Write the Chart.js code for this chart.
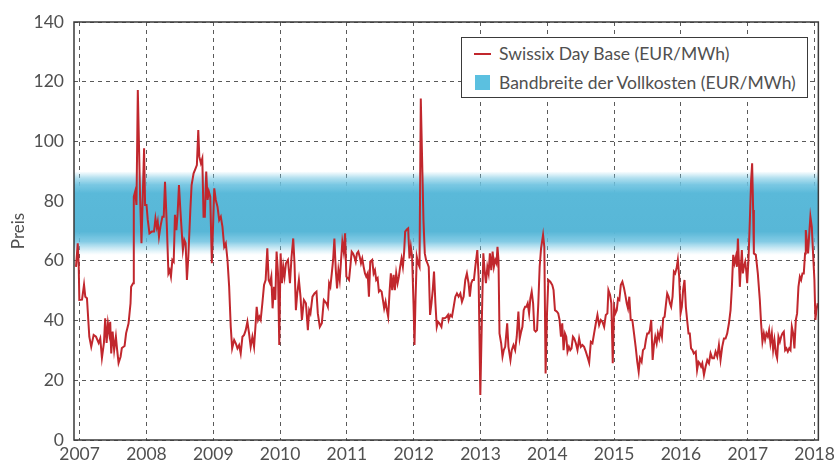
<!DOCTYPE html>
<html>
<head>
<meta charset="utf-8">
<title>Swissix Day Base</title>
<script src="https://cdn.jsdelivr.net/npm/chart.js@4/dist/chart.umd.min.js"></script>
<style>
  body { margin: 0; background: #fff; }
  #wrap { position: relative; width: 839px; height: 467px; }
  .legend {
    position: absolute; left: 461px; top: 37px; width: 347px; height: 61px;
    box-sizing: border-box; border: 1.5px solid #3a3a3a; background: #fff;
    font-family: Lato, "Open Sans", sans-serif; font-size: 17.5px; color: #505050;
  }
  .legend .row { position: absolute; left: 37px; white-space: nowrap; line-height: 20px; }
  .legend .swatch { position: absolute; }
  .legend .line { left: 12px; top: 15px; width: 17px; height: 2px; background: #c1272d; }
  .legend .box { left: 13px; top: 37px; width: 15px; height: 15px; background: #5bc0e0; }
</style>
</head>
<body>
<div id="wrap">
  <canvas id="chart" width="839" height="467"></canvas>
  <div class="legend">
    <div class="swatch line"></div>
    <div class="row" style="top:6px">Swissix Day Base (EUR/MWh)</div>
    <div class="swatch box"></div>
    <div class="row" style="top:35px">Bandbreite der Vollkosten (EUR/MWh)</div>
  </div>
</div>
<script>
// weekly-ish readings, decimal year
const years = [
  2006.946, 2006.972, 2006.987, 2006.996, 2007.036, 2007.066, 2007.085, 2007.110, 2007.145, 2007.174,
  2007.210, 2007.245, 2007.285, 2007.309, 2007.334, 2007.364, 2007.383, 2007.404, 2007.424, 2007.443,
  2007.458, 2007.473, 2007.494, 2007.517, 2007.543, 2007.562, 2007.583, 2007.613, 2007.632, 2007.673,
  2007.696, 2007.732, 2007.762, 2007.771, 2007.801, 2007.811, 2007.831, 2007.851, 2007.871, 2007.905,
  2007.926, 2007.945, 2007.965, 2007.980,
  2008.001, 2008.020, 2008.045, 2008.080, 2008.114, 2008.135, 2008.154, 2008.169, 2008.188, 2008.209,
  2008.239, 2008.259, 2008.278, 2008.308, 2008.329, 2008.348, 2008.367, 2008.388, 2008.408, 2008.427,
  2008.448, 2008.467, 2008.487, 2008.508, 2008.527, 2008.546, 2008.567, 2008.587, 2008.606, 2008.627,
  2008.657, 2008.676, 2008.706, 2008.736, 2008.755, 2008.776, 2008.791, 2008.815, 2008.836, 2008.855,
  2008.874, 2008.895, 2008.915, 2008.934, 2008.955, 2008.979,
  2009.000, 2009.015, 2009.038, 2009.064, 2009.089, 2009.113, 2009.138, 2009.164, 2009.188, 2009.213,
  2009.238, 2009.262, 2009.283, 2009.313, 2009.337, 2009.362, 2009.387, 2009.411, 2009.437, 2009.462,
  2009.486, 2009.511, 2009.536, 2009.560, 2009.586, 2009.611, 2009.635, 2009.650, 2009.671, 2009.690,
  2009.710, 2009.735, 2009.760, 2009.784, 2009.809, 2009.829, 2009.850, 2009.869, 2009.888, 2009.909,
  2009.929, 2009.948, 2009.969, 2009.988,
  2010.008, 2010.029, 2010.048, 2010.067, 2010.088, 2010.118, 2010.148, 2010.172, 2010.197, 2010.216,
  2010.237, 2010.257, 2010.282, 2010.306, 2010.327, 2010.357, 2010.387, 2010.416, 2010.436, 2010.455,
  2010.485, 2010.515, 2010.545, 2010.565, 2010.595, 2010.625, 2010.655, 2010.694, 2010.715, 2010.734,
  2010.753, 2010.774, 2010.794, 2010.813, 2010.834, 2010.853, 2010.873, 2010.893, 2010.913, 2010.932,
  2010.953, 2010.973, 2010.992,
  2011.013, 2011.032, 2011.051, 2011.072, 2011.092, 2011.111, 2011.132, 2011.151, 2011.171, 2011.192,
  2011.211, 2011.230, 2011.251, 2011.271, 2011.290, 2011.311, 2011.330, 2011.350, 2011.379, 2011.400,
  2011.420, 2011.439, 2011.460, 2011.479, 2011.499, 2011.520, 2011.539, 2011.558, 2011.579, 2011.599,
  2011.618, 2011.639, 2011.658, 2011.678, 2011.699, 2011.718, 2011.738, 2011.759, 2011.778, 2011.797,
  2011.818, 2011.838, 2011.857, 2011.872, 2011.897, 2011.917, 2011.937, 2011.957, 2011.976, 2011.997,
  2012.012, 2012.027, 2012.046, 2012.066, 2012.087, 2012.106, 2012.125, 2012.146, 2012.166, 2012.185,
  2012.206, 2012.225, 2012.245, 2012.266, 2012.285, 2012.304, 2012.325, 2012.345, 2012.364, 2012.385,
  2012.415, 2012.434, 2012.464, 2012.494, 2012.513, 2012.523, 2012.548, 2012.573, 2012.598, 2012.623,
  2012.647, 2012.672, 2012.698, 2012.722, 2012.747, 2012.772, 2012.796, 2012.821, 2012.840, 2012.861,
  2012.881, 2012.901, 2012.922, 2012.952, 2012.971, 2012.997,
  2013.021, 2013.042, 2013.061, 2013.081, 2013.102, 2013.121, 2013.140, 2013.161, 2013.181, 2013.200,
  2013.220, 2013.239, 2013.254, 2013.269, 2013.284, 2013.309, 2013.329, 2013.348, 2013.369, 2013.399,
  2013.418, 2013.448, 2013.467, 2013.493, 2013.518, 2013.542, 2013.567, 2013.587, 2013.608, 2013.627,
  2013.646, 2013.667, 2013.686, 2013.706, 2013.727, 2013.746, 2013.766, 2013.787, 2013.806, 2013.825,
  2013.846, 2013.865, 2013.885, 2013.906, 2013.936, 2013.955, 2013.974, 2013.995,
  2014.015, 2014.044, 2014.074, 2014.093, 2014.114, 2014.144, 2014.163, 2014.183, 2014.204, 2014.223,
  2014.243, 2014.264, 2014.283, 2014.302, 2014.323, 2014.343, 2014.362, 2014.383, 2014.402, 2014.427,
  2014.451, 2014.476, 2014.501, 2014.525, 2014.550, 2014.576, 2014.600, 2014.626, 2014.651, 2014.675,
  2014.700, 2014.726, 2014.750, 2014.775, 2014.800, 2014.824, 2014.850, 2014.875, 2014.899, 2014.914,
  2014.939, 2014.958, 2014.979, 2014.999,
  2015.018, 2015.039, 2015.058, 2015.078, 2015.099, 2015.123, 2015.148, 2015.167, 2015.188, 2015.207,
  2015.227, 2015.248, 2015.272, 2015.297, 2015.322, 2015.346, 2015.367, 2015.386, 2015.411, 2015.431,
  2015.456, 2015.475, 2015.495, 2015.516, 2015.535, 2015.555, 2015.576, 2015.595, 2015.615, 2015.636,
  2015.655, 2015.674, 2015.695, 2015.715, 2015.734, 2015.755, 2015.774, 2015.794, 2015.815, 2015.834,
  2015.853, 2015.874, 2015.894, 2015.913, 2015.934, 2015.953, 2015.973, 2015.994,
  2016.013, 2016.032, 2016.053, 2016.073, 2016.092, 2016.113, 2016.132, 2016.151, 2016.172, 2016.192,
  2016.221, 2016.241, 2016.262, 2016.281, 2016.301, 2016.319, 2016.344, 2016.369, 2016.394, 2016.419,
  2016.443, 2016.468, 2016.494, 2016.518, 2016.543, 2016.568, 2016.592, 2016.617, 2016.643, 2016.667,
  2016.692, 2016.718, 2016.742, 2016.762, 2016.782, 2016.801, 2016.822, 2016.837, 2016.852, 2016.866,
  2016.881, 2016.896, 2016.911, 2016.926, 2016.941, 2016.961, 2016.976, 2016.991,
  2017.010, 2017.031, 2017.050, 2017.065, 2017.080, 2017.091, 2017.120, 2017.150, 2017.180, 2017.199,
  2017.219, 2017.240, 2017.259, 2017.279, 2017.300, 2017.319, 2017.339, 2017.360, 2017.379, 2017.399,
  2017.420, 2017.439, 2017.459, 2017.480, 2017.499, 2017.518, 2017.539, 2017.559, 2017.578, 2017.599,
  2017.620, 2017.639, 2017.659, 2017.679, 2017.698, 2017.719, 2017.738, 2017.758, 2017.779, 2017.798,
  2017.818, 2017.838, 2017.857, 2017.868, 2017.883, 2017.902, 2017.917, 2017.937, 2017.958, 2017.977,
  2017.997, 2018.012, 2018.027, 2018.047
];

const prices = [
  58, 65.9, 58, 46.9, 47, 52, 48, 47.5, 34.6, 31.2,
  35.2, 34.6, 32.5, 34, 27.5, 32.5, 40.8, 32.5, 39, 35.8,
  39.6, 29, 36.3, 30, 34.6, 30.1, 25.8, 27.9, 30.8, 31.5,
  35.8, 39, 45.8, 51.3, 52.5, 81.5, 83.2, 78.7, 117.2, 81.5,
  65.9, 81.5, 97.7, 78.7,
  78.7, 73.7, 69.2, 69.8, 69.8, 74.2, 71.4, 73.1, 68.1, 71.4,
  74.8, 74.8, 86.5, 70.3, 55.8, 56.9, 54.7, 60.3, 59.7, 75.4,
  70.3, 75.9, 85.4, 77, 70.3, 63.6, 67, 65.9, 53.6, 61.4,
  77, 85.4, 89.3, 91, 92.1, 103.8, 94.9, 92.7, 94.3, 74.8,
  74.8, 89.9, 80.4, 83.2, 81.5, 59.2,
  73.7, 84.3, 80.4, 78.1, 73.7, 74.8, 71.4, 64.7, 65.9, 60.3,
  51.3, 37.9, 30.7, 33.5, 32.4, 30.7, 31.8, 29, 34.6, 35.2,
  36.8, 39.6, 35.7, 31.2, 34.6, 31.2, 39.1, 44.6, 40.2, 41.3,
  40.2, 45.8, 51.9, 53.6, 64.2, 53.6, 52.5, 54.7, 44.1, 51.3,
  46.9, 63.1, 55.8, 31.8,
  62.5, 52.5, 58, 54.7, 59.2, 60.3, 52.5, 61.4, 67.5, 59.2,
  43.5, 49.1, 53.6, 48, 40.2, 46.9, 45.8, 36.8, 43.5, 42.4,
  48, 49.1, 49.7, 42.4, 37.9, 39.1, 46.9, 45.8, 44.6, 52.5,
  51.3, 55.8, 60.3, 67.5, 56.9, 50.8, 56.9, 53.6, 60.3, 66.4,
  63.1, 69.2, 54.7,
  54.2, 53.6, 58, 63.1, 62.5, 61.4, 59.7, 62.5, 63.1, 61.4,
  59.2, 60.8, 58, 55.8, 54.7, 55.8, 48, 59.7, 60.3, 55.8,
  56.9, 53.6, 54.2, 49.7, 50.2, 49.7, 46.9, 44.1, 46.3, 43.5,
  41.3, 49.7, 55.8, 50.2, 55.3, 50.2, 55.8, 52.5, 54.7, 58,
  60.8, 58, 63.1, 69.8, 70.5, 70.9, 60.8, 64.7, 61.4, 45.8,
  31.8, 46.9, 61.4, 59.2, 58, 114.4, 94.9, 73.7, 62.5, 60.3,
  59.2, 58, 41.9, 45.8, 50.2, 56.4, 45.8, 37.9, 39.6, 39.1,
  37.9, 40.8, 40.8, 41.3, 41.9, 40.2, 41.9, 41.3, 44.6, 48,
  49.1, 48, 49.1, 46.3, 48, 53.6, 55.8, 52.5, 48, 52.5,
  53.6, 53.6, 58, 63.6, 54.7, 15.1,
  41.3, 62.5, 56.9, 52.5, 58, 55.8, 62.5, 56.9, 63.1, 58,
  60.3, 59.2, 64.7, 60.3, 35.7, 32.4, 27.9, 30.1, 31.2, 39.1,
  31.2, 26.8, 30.1, 31.8, 30.1, 34.6, 43, 34, 36.3, 37.9,
  43.5, 44.6, 44.6, 45.8, 42.4, 47.4, 49.7, 45.8, 36.8, 36.3,
  36.8, 45.8, 58, 64.2, 68.7, 64.7, 22.3, 42.4,
  53.6, 53, 51.9, 50.2, 43.5, 43, 42.4, 40.2, 34.6, 39.1,
  30.1, 35.7, 34.6, 29.6, 31.2, 30.1, 30.7, 34.6, 34, 32.4,
  30.1, 34, 31.2, 31.8, 31.2, 29.6, 27.9, 25.9, 32.9, 32.4,
  35.7, 39.1, 41.9, 38.5, 40.2, 39.6, 37.9, 41.9, 42.4, 50.2,
  48.6, 45.8, 25.7, 44.6,
  42.4, 43.5, 47.4, 46.9, 51.9, 53, 50.8, 48.6, 45.8, 44.1,
  48, 40.2, 40.2, 35.7, 31.2, 26.2, 22.9, 27.4, 26.2, 30.1,
  30.7, 33.5, 35.7, 35.7, 36.8, 40.2, 26.8, 31.8, 34.6, 32.4,
  35.7, 34, 36.8, 34.6, 40.8, 41.3, 45.2, 49.1, 48, 45.8,
  44.6, 48, 56.4, 55.8, 57.5, 60.3, 54.7, 42.4,
  44.6, 50.2, 53.6, 44.6, 40.2, 35.7, 35.7, 30.7, 30.1, 29,
  29.6, 23.4, 26.2, 25.7, 24.6, 25.7, 21.8, 24.6, 26.8, 25.7,
  29, 27.4, 27.4, 29.6, 27.9, 31.8, 26.8, 31.2, 34, 34,
  35.7, 39.1, 43.5, 51.3, 62, 59.2, 61.4, 58, 67.5, 60.3,
  51.3, 58, 63.6, 55.8, 58, 59.7, 56.9, 52.5,
  60.3, 73.7, 87.1, 92.7, 77, 62.5, 62, 55.8, 46.9, 39.1,
  32.9, 35.7, 33.5, 35.7, 34.6, 36.8, 32.4, 35.7, 30.1, 33.5,
  29, 27.4, 34.6, 32.9, 34.6, 35.7, 36.3, 30.1, 30.7, 29.6,
  30.7, 30.1, 37.9, 35.7, 30.7, 40.2, 42.4, 51.3, 54.7, 53.6,
  55.8, 55.8, 62.5, 70.3, 67, 62.5, 68.1, 74.8, 71.4, 62.5,
  53.6, 40.2, 43.5, 45.8
];

// full-cost band (EUR/MWh), soft edges
const bandLow = 62;
const bandHigh = 90;

const yearTicks = [2007, 2008, 2009, 2010, 2011, 2012, 2013, 2014, 2015, 2016, 2017, 2018];
const priceTicks = [0, 20, 40, 60, 80, 100, 120, 140];

const X_MIN = 2006.916;
const X_MAX = 2018.056;

const series = years.map((yr, i) => ({ x: yr, y: prices[i] }));

function bandFill(context) {
  const { chart } = context;
  const { ctx, chartArea, scales } = chart;
  if (!chartArea) return 'rgba(91,186,218,0.9)';
  const top = scales.y.getPixelForValue(bandHigh);
  const bottom = scales.y.getPixelForValue(bandLow);
  const g = ctx.createLinearGradient(0, top, 0, bottom);
  g.addColorStop(0, 'rgba(120,200,228,0)');
  g.addColorStop(0.08, 'rgba(115,198,226,0.55)');
  g.addColorStop(0.16, 'rgba(108,194,224,0.9)');
  g.addColorStop(0.26, 'rgba(90,185,217,1)');
  g.addColorStop(0.72, 'rgba(88,183,215,1)');
  g.addColorStop(0.84, 'rgba(100,190,222,0.8)');
  g.addColorStop(0.93, 'rgba(120,200,228,0.35)');
  g.addColorStop(1, 'rgba(130,205,230,0)');
  return g;
}

const frame = {
  id: 'frame',
  afterDatasetsDraw(chart) {
    const { ctx, chartArea: a } = chart;
    ctx.save();
    ctx.strokeStyle = '#3a3a3a';
    ctx.lineWidth = 1.5;
    ctx.strokeRect(a.left, a.top, a.right - a.left, a.bottom - a.top);
    ctx.restore();
  }
};

const tickFont = { family: 'Lato, "Open Sans", sans-serif', size: 17.5 };
const gridColor = '#5a5a5a';

new Chart(document.getElementById('chart'), {
  type: 'line',
  data: {
    datasets: [
      {
        label: 'Swissix Day Base (EUR/MWh)',
        data: series,
        borderColor: '#c1272d',
        borderWidth: 2,
        pointRadius: 0,
        tension: 0,
        fill: false,
        order: 0,
      },
      {
        label: 'band top',
        data: [{ x: X_MIN, y: bandHigh }, { x: X_MAX, y: bandHigh }],
        borderWidth: 0,
        pointRadius: 0,
        fill: false,
        order: 2,
      },
      {
        label: 'Bandbreite der Vollkosten (EUR/MWh)',
        data: [{ x: X_MIN, y: bandLow }, { x: X_MAX, y: bandLow }],
        borderWidth: 0,
        pointRadius: 0,
        fill: '-1',
        backgroundColor: bandFill,
        order: 1,
      },
    ],
  },
  options: {
    responsive: false,
    animation: false,
    devicePixelRatio: 1,
    layout: { padding: { top: 22, right: 18, left: 0, bottom: 0 } },
    plugins: { legend: { display: false }, tooltip: { enabled: false } },
    scales: {
      x: {
        type: 'linear',
        min: X_MIN,
        max: X_MAX,
        afterBuildTicks: (s) => { s.ticks = yearTicks.map((v) => ({ value: v })); },
        afterFit: (s) => { s.height = 27; },
        ticks: { callback: (v) => String(v), font: tickFont, color: '#505050', padding: 4, maxRotation: 0, autoSkip: false },
        grid: { color: gridColor, lineWidth: 1, drawTicks: false },
        border: { display: false, dash: [4, 4] },
      },
      y: {
        min: 0,
        max: 140,
        afterBuildTicks: (s) => { s.ticks = priceTicks.map((v) => ({ value: v })); },
        afterFit: (s) => { s.width = 74; },
        ticks: { font: tickFont, color: '#505050', padding: 10 },
        grid: { color: gridColor, lineWidth: 1, drawTicks: false },
        border: { display: false, dash: [4, 4] },
        title: {
          display: true,
          text: 'Preis',
          font: { family: 'Lato, "Open Sans", sans-serif', size: 17 },
          color: '#505050',
          padding: { top: 8, bottom: 0 },
        },
      },
    },
  },
  plugins: [frame],
});
</script>
</body>
</html>
